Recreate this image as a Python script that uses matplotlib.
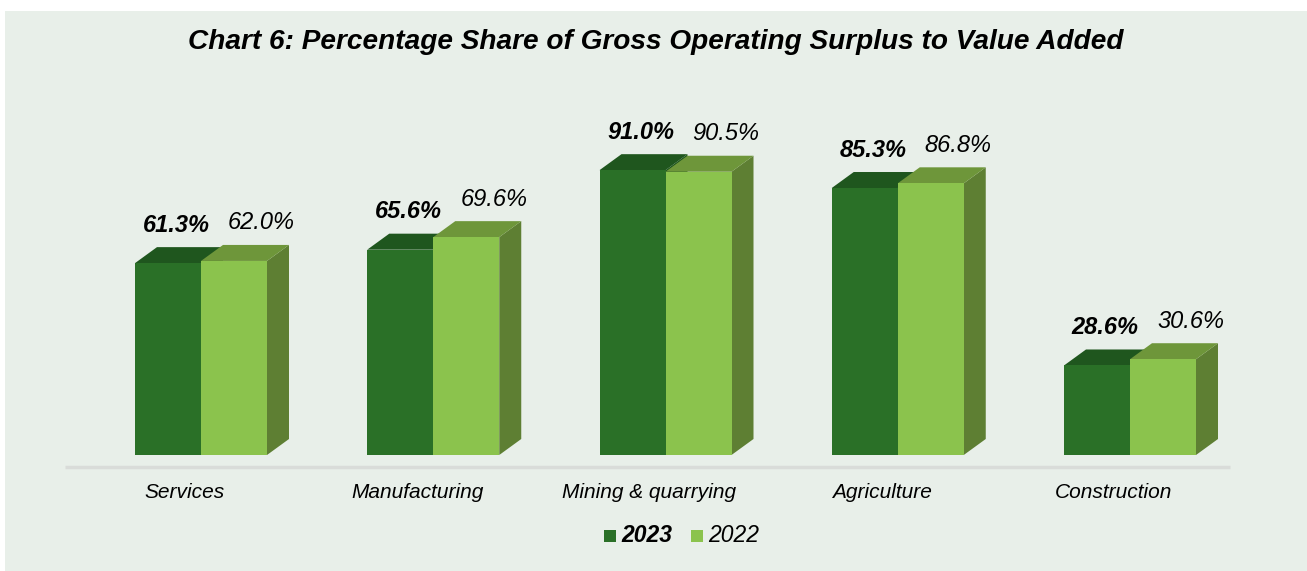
import numpy as np
import matplotlib.pyplot as plt
from matplotlib.patches import Rectangle, Polygon

plt.rcParams['font.family'] = ['Liberation Sans', 'DejaVu Sans']

# data
categories = ['Services', 'Manufacturing', 'Mining & quarrying', 'Agriculture', 'Construction']
values_2023 = [61.3, 65.6, 91.0, 85.3, 28.6]
values_2022 = [62.0, 69.6, 90.5, 86.8, 30.6]

W, H = 1307, 571
fig = plt.figure(figsize=(W / 100, H / 100), dpi=100)
fig.patch.set_facecolor('white')
fig.patches.append(Rectangle((5 / W, 0), 1 - 5 / W, 1 - 11 / H, transform=fig.transFigure,
                             facecolor='#E8EFE9', edgecolor='none', zorder=-5))

# axes: value 0 at y=455px, 100 at y=142px
ax = fig.add_axes([65 / W, (H - 455) / H, (1230 - 65) / W, 313 / H])
ax.set_facecolor('none')
ax.axis('off')
spacing = 232.25
ax.set_xlim(-(201 - 65) / spacing, 4 + (1230 - 1130) / spacing)
ax.set_ylim(0, 100)

bw = 66 / spacing          # bar width
dx = 22 / spacing          # depth offset x
dy = 16 / 3.13             # depth offset y

dark, dark_top = '#2A7027', '#1F561E'
light, light_top, light_side = '#8BC34D', '#6E963A', '#5E7F33'

x = np.arange(len(categories))

for i, c in enumerate(x):
    v1, v2 = values_2023[i], values_2022[i]
    # 2023 bar
    x0 = c - bw
    ax.add_patch(Polygon([(c, 0), (c + dx, dy), (c + dx, v1 + dy), (c, v1)],
                         closed=True, facecolor=dark_top, edgecolor='none', zorder=2))
    ax.add_patch(Polygon([(x0, v1), (x0 + dx, v1 + dy), (c + dx, v1 + dy), (c, v1)],
                         closed=True, facecolor=dark_top, edgecolor='none', zorder=2))
    ax.add_patch(Rectangle((x0, 0), bw, v1, facecolor=dark, edgecolor='none', zorder=3))
    # 2022 bar
    x1 = c + bw
    ax.add_patch(Polygon([(x1, 0), (x1 + dx, dy), (x1 + dx, v2 + dy), (x1, v2)],
                         closed=True, facecolor=light_side, edgecolor='none', zorder=4))
    ax.add_patch(Polygon([(c, v2), (c + dx, v2 + dy), (x1 + dx, v2 + dy), (x1, v2)],
                         closed=True, facecolor=light_top, edgecolor='none', zorder=4))
    ax.add_patch(Rectangle((c, 0), bw, v2, facecolor=light, edgecolor='none', zorder=5))

    # value labels
    ax.text(c - bw / 2 + 8 / spacing, v1 + 38 / 3.13, f'{v1:.1f}%', ha='center', va='center',
            fontsize=17, fontstyle='italic', fontweight='bold', color='black', zorder=6)
    ax.text(c + bw / 2 + 27.5 / spacing, v2 + 38 / 3.13, f'{v2:.1f}%', ha='center', va='center',
            fontsize=17, fontstyle='italic', color='black', zorder=6)

    # category label
    ax.text(c - 16 / spacing, -37 / 3.13, categories[i], ha='center', va='center',
            fontsize=15, fontstyle='italic', color='black')

# floor line
ax.plot([ax.get_xlim()[0], ax.get_xlim()[1]], [-12 / 3.13, -12 / 3.13], color='#D9DCD9',
        lw=2.5, solid_capstyle='butt', clip_on=False, zorder=1)

# title
fig.text(656 / W, 1 - 42 / H, 'Chart 6: Percentage Share of Gross Operating Surplus to Value Added',
         ha='center', va='center', fontsize=20.2, fontstyle='italic', fontweight='bold')

# legend
fig.patches.append(Rectangle((604 / W, 1 - 542 / H), 12 / W, 12 / H, transform=fig.transFigure,
                             facecolor=dark, edgecolor='none'))
fig.text(621 / W, 1 - 536 / H, '2023', ha='left', va='center', fontsize=16.5,
         fontstyle='italic', fontweight='bold')
fig.patches.append(Rectangle((691 / W, 1 - 542 / H), 12 / W, 12 / H, transform=fig.transFigure,
                             facecolor=light, edgecolor='none'))
fig.text(708 / W, 1 - 536 / H, '2022', ha='left', va='center', fontsize=16.5,
         fontstyle='italic')

fig.savefig('out.png', dpi=100)
